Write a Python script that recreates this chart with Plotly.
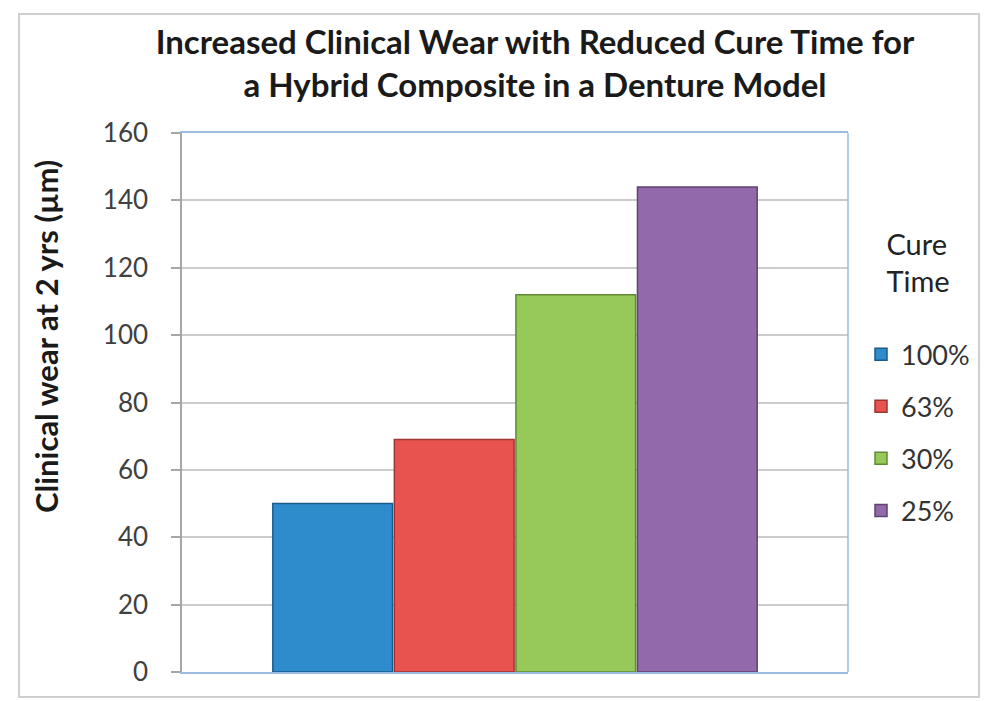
import plotly.graph_objects as go

categories = ["Hybrid Composite"]
series_names = ["100%", "63%", "30%", "25%"]
series_values = [50, 69, 112, 144]
colors = ["#2e8bcc", "#e9534f", "#97c85a", "#926aab"]
edge_colors = ["#1d5a88", "#9c3432", "#5f8a35", "#5e4470"]
y_ticks = [0, 20, 40, 60, 80, 100, 120, 140, 160]

OFF = 8  # page body margin
W, H = 997 - OFF, 701 - OFF
# plot area edges in reference pixels
L, R, T, B = 182, 848, 133, 672

def px(x):
    return (x - L) / (R - L)

def py(y):
    return (B - y) / (B - T)

fig = go.Figure()
for i, (name, val) in enumerate(zip(series_names, series_values)):
    fig.add_trace(go.Bar(
        x=categories, y=[val], name=name,
        marker=dict(color=colors[i], line=dict(color=edge_colors[i], width=1.5)),
        legendgroup=name,
    ))

fig.update_layout(
    width=W, height=H,
    margin=dict(l=L - OFF, r=W - (R - OFF), t=T - OFF, b=H - (B - OFF)),
    paper_bgcolor="white", plot_bgcolor="white",
    barmode="group", bargap=0.27, bargroupgap=0.015,
    font=dict(family="Lato", color="#404040"),
    title=dict(
        text="<b>Increased Clinical Wear with Reduced Cure Time for<br>a Hybrid Composite in a Denture Model</b>",
        x=(535 - OFF) / W, xanchor="center", xref="container",
        y=1 - 46 / H, yanchor="top",
        font=dict(family="Lato", size=33, color="#1a1a1a"),
    ),
    xaxis=dict(showticklabels=False, ticks="", showgrid=False,
               showline=True, linecolor="#9dbbe0", linewidth=1.5, mirror=True,
               zeroline=False),
    yaxis=dict(range=[0, 160], tickvals=y_ticks, ticks="outside", ticklen=9,
               tickcolor="#a6a6a6", tickwidth=1.5,
               showgrid=True, gridcolor="#cccccc", gridwidth=2,
               showline=True, linecolor="#a6a6a6", linewidth=1.5,
               zeroline=False, ticklabelstandoff=18,
               tickfont=dict(family="Lato", size=26, color="#404040")),
    legend=dict(
        x=px(861), y=py(217), xanchor="left", yanchor="top",
        title=dict(text="Cure<br>Time<br> ", side="top center",
                   font=dict(family="Lato", size=29, color="#222222")),
        font=dict(family="Lato", size=27, color="#333333"),
        traceorder="grouped", tracegroupgap=14,
        bgcolor="rgba(0,0,0,0)",
    ),
    annotations=[dict(
        text="<b>Clinical wear at 2 yrs (µm)</b>", textangle=-90,
        x=px(46), y=py(337), xref="paper", yref="paper",
        xanchor="center", yanchor="middle",
        showarrow=False, font=dict(family="Lato", size=31, color="#1a1a1a"),
    )],
    shapes=[
        dict(type="rect", xref="paper", yref="paper",
             x0=px(19), x1=px(979), y0=py(697), y1=py(14),
             line=dict(color="#cfcfcf", width=2), layer="below"),
        dict(type="line", xref="paper", yref="paper",
             x0=1, x1=1, y0=0, y1=1,
             line=dict(color="#9dbbe0", width=1.5)),
    ],
)

fig.write_html("out.html")
